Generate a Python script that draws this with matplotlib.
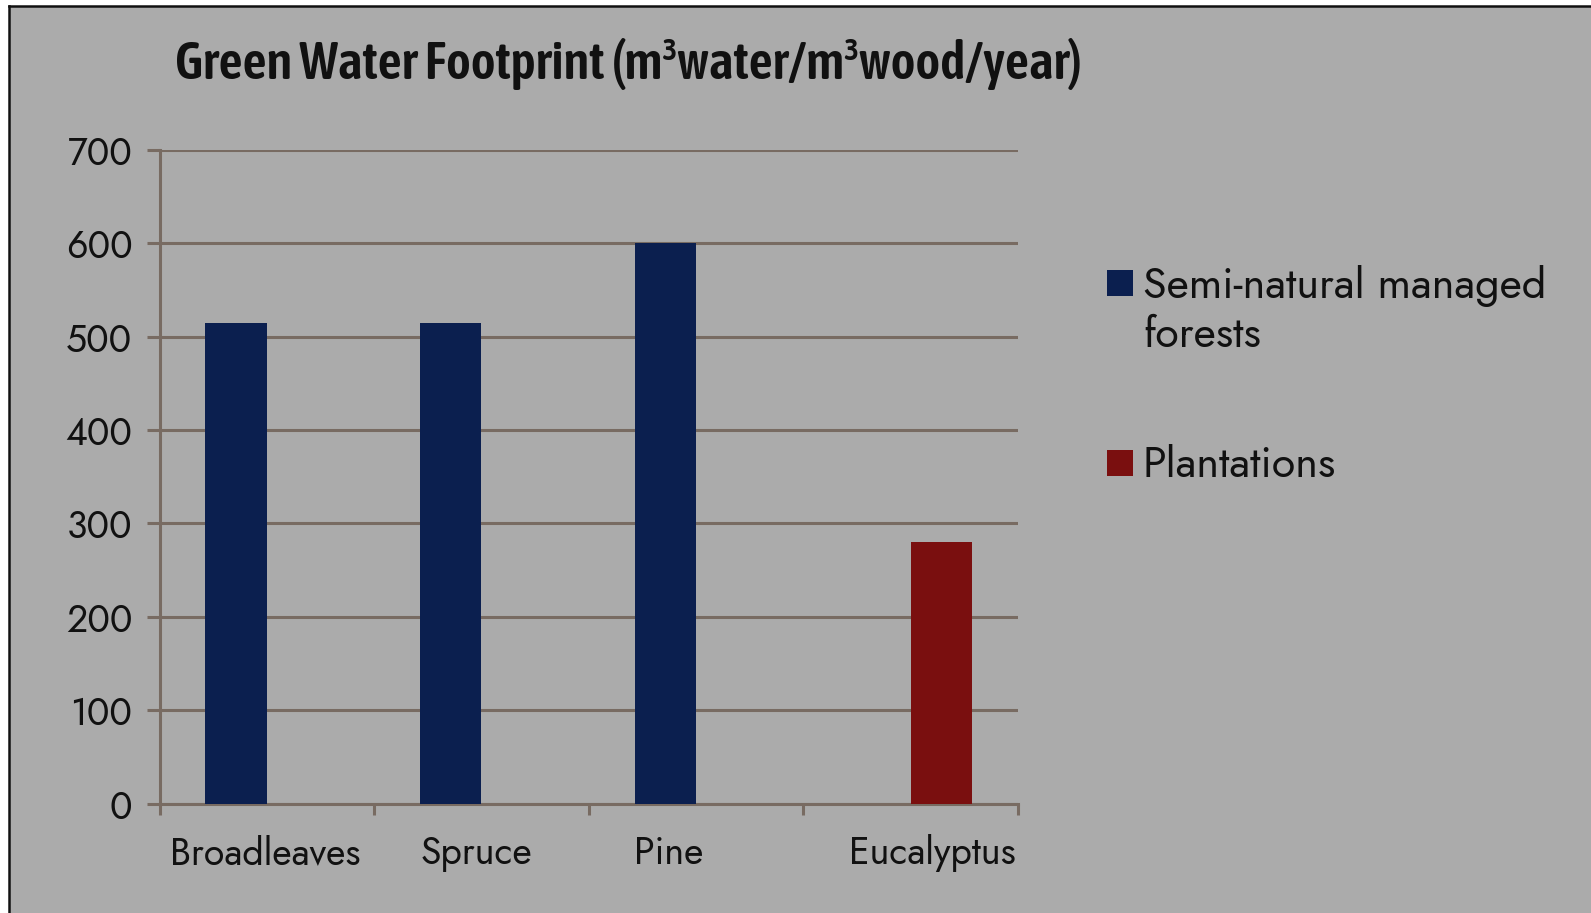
import numpy as np
import matplotlib
matplotlib.use("Agg")
import matplotlib.pyplot as plt
from matplotlib import font_manager
from matplotlib.patches import Rectangle
from matplotlib.lines import Line2D
from matplotlib.transforms import ScaledTranslation

# chart data
categories = ["Broadleaves", "Spruce", "Pine", "Eucalyptus"]
semi_natural = [515, 515, 600, np.nan]
plantations = [np.nan, np.nan, np.nan, 280]
series_names = ["Semi-natural managed\nforests", "Plantations"]
y_ticks = [0, 100, 200, 300, 400, 500, 600, 700]
title = "Green Water Footprint (m\u00b3water/m\u00b3wood/year)"

# styling
BG = "#ababab"
NAVY = "#0b1f4f"
RED = "#7a0f0f"
GRID = "#786b62"
TEXT = "#111111"

installed = {f.name for f in font_manager.fontManager.ttflist}


def pick(*names):
    for n in names:
        if n in installed:
            return n
    return "DejaVu Sans"


FONT = pick("Jost", "League Spartan", "Lato")
TITLE_FONT = pick("Asap Condensed", "Archivo Narrow", "Sofia Sans Condensed",
                  "Saira SemiCondensed", "Liberation Sans Narrow")

W, H, DPI = 1591, 913, 100
fig = plt.figure(figsize=(W / DPI, H / DPI), dpi=DPI, facecolor="white")

# grey panel with a black rule on top and left
fig.patches.append(Rectangle((9 / W, 0), 1 - 9 / W, 1 - 6 / H, transform=fig.transFigure,
                             facecolor=BG, edgecolor="none", zorder=-5))
fig.lines.append(Line2D([9 / W, 9 / W], [0, 1 - 6 / H], transform=fig.transFigure,
                        color="#111111", lw=1.8, zorder=-4))
fig.lines.append(Line2D([9 / W, 1], [1 - 6 / H, 1 - 6 / H], transform=fig.transFigure,
                        color="#111111", lw=1.8, zorder=-4))

ax = fig.add_axes([159.5 / W, 1 - 803.5 / H, (1018 - 159.5) / W, (803.5 - 150) / H])
ax.set_facecolor("none")

x = np.arange(len(categories))
bw = 0.286
ax.bar(x - 0.143, semi_natural, bw, color=NAVY, zorder=3, label=series_names[0])
ax.bar(x + 0.143, plantations, bw, color=RED, zorder=3, label=series_names[1])

ax.set_xlim(-0.5, len(categories) - 0.5)
ax.set_ylim(0, 700)

ax.set_yticks(y_ticks)
ax.set_yticklabels([str(v) for v in y_ticks], fontsize=27, family=FONT,
                   fontweight="medium", color=TEXT)
ax.yaxis.grid(True, color=GRID, lw=2.2, zorder=1)
ax.tick_params(axis="y", length=9.5, width=2.2, color=GRID, pad=10)

# tick marks sit on the category boundaries, labels go on minor ticks
ax.set_xticks(np.arange(len(categories) + 1) - 0.5)
ax.set_xticklabels([])
ax.tick_params(axis="x", which="major", length=8, width=2.2, color=GRID)
ax.set_xticks(x, minor=True)
ax.set_xticklabels(categories, minor=True, fontsize=27, family=FONT,
                   fontweight="medium", color=TEXT)
ax.tick_params(axis="x", which="minor", length=0, pad=22)

label_shift_px = [-2, -5, -27, 22]
for lbl, dx in zip(ax.get_xticklabels(minor=True), label_shift_px):
    lbl.set_transform(lbl.get_transform() + ScaledTranslation(dx / DPI, 0, fig.dpi_scale_trans))

for side in ("top", "right"):
    ax.spines[side].set_visible(False)
for side in ("left", "bottom"):
    ax.spines[side].set_color(GRID)
    ax.spines[side].set_linewidth(2.2)

title_txt = fig.text(175 / W, 1 - 79 / H, title, fontsize=34, fontweight="semibold",
                     family=TITLE_FONT, color=TEXT, va="baseline", ha="left")
# size the title so it spans the same width as the plot heading
renderer = fig.canvas.get_renderer()
tw = title_txt.get_window_extent(renderer).width
title_txt.set_fontsize(34 * 907 / tw)

# legend drawn by hand so the swatch lines up with the first text line
legend_rows = [(series_names[0], NAVY, 270, 347), (series_names[1], RED, 450, 477)]
for name, col, sw_top, base in legend_rows:
    fig.patches.append(Rectangle((1107 / W, 1 - (sw_top + 26) / H), 26 / W, 26 / H,
                                 transform=fig.transFigure, facecolor=col, edgecolor="none"))
    fig.text(1143 / W, 1 - base / H, name, fontsize=31, family=FONT, fontweight="medium",
             color=TEXT, va="baseline", ha="left", linespacing=1.22)

fig.savefig("out.png", dpi=DPI, facecolor=fig.get_facecolor())
